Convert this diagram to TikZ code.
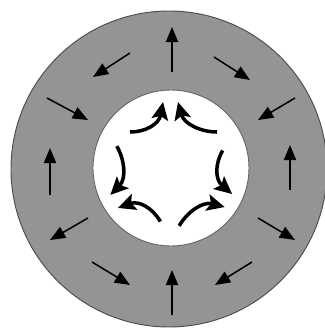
\documentclass[tikz,border=0pt]{standalone}
\usetikzlibrary{arrows.meta}
\begin{document}
\begin{tikzpicture}[
    x=0.03cm, y=0.03cm,
    flow/.style={-{Triangle[length=13pt, width=10.5pt]}, line width=1.3pt},
    swirl/.style={-{Stealth[length=15pt, width=14pt, inset=3pt]}, line width=3pt}
]
    \useasboundingbox (-169,-162) rectangle (155,169);
    % Кольцо и внутренний круг
    \draw[black!70, line width=0.8pt, fill=black!42] (0,0) circle (158);
    \draw[black!60, line width=0.8pt, fill=white] (2,1) circle (78);

    % Внешние стрелки (верх)
    \draw[flow] (3,97) -- (3,142);
    \draw[flow] (-39,116) -- (-76,92);
    \draw[flow] (45,112) -- (81,89);
    \draw[flow] (-122,71) -- (-81,49);
    \draw[flow] (126,71) -- (89,49);

    % Внешние стрелки (бока)
    \draw[flow] (-119,-26) -- (-119,21);
    \draw[flow] (121,-21) -- (121,24);

    % Внешние стрелки (низ)
    \draw[flow] (-81,-49) -- (-119,-71);
    \draw[flow] (89,-49) -- (126,-71);
    \draw[flow] (-77,-93) -- (-39,-116);
    \draw[flow] (3,-146) -- (3,-101);
    \draw[flow] (83,-93) -- (46,-116);

    % Внутренние изогнутые стрелки (три пары)
    \foreach \r in {0,120,240} {
        \begin{scope}[shift={(2,1)}, rotate=\r]
            \draw[swirl] (-41,36) .. controls (-25,36) and (-12,44) .. (-8,66);
            \draw[swirl] (46,36) .. controls (30,36) and (13,44) .. (7,66);
        \end{scope}
    }
\end{tikzpicture}
\end{document}
